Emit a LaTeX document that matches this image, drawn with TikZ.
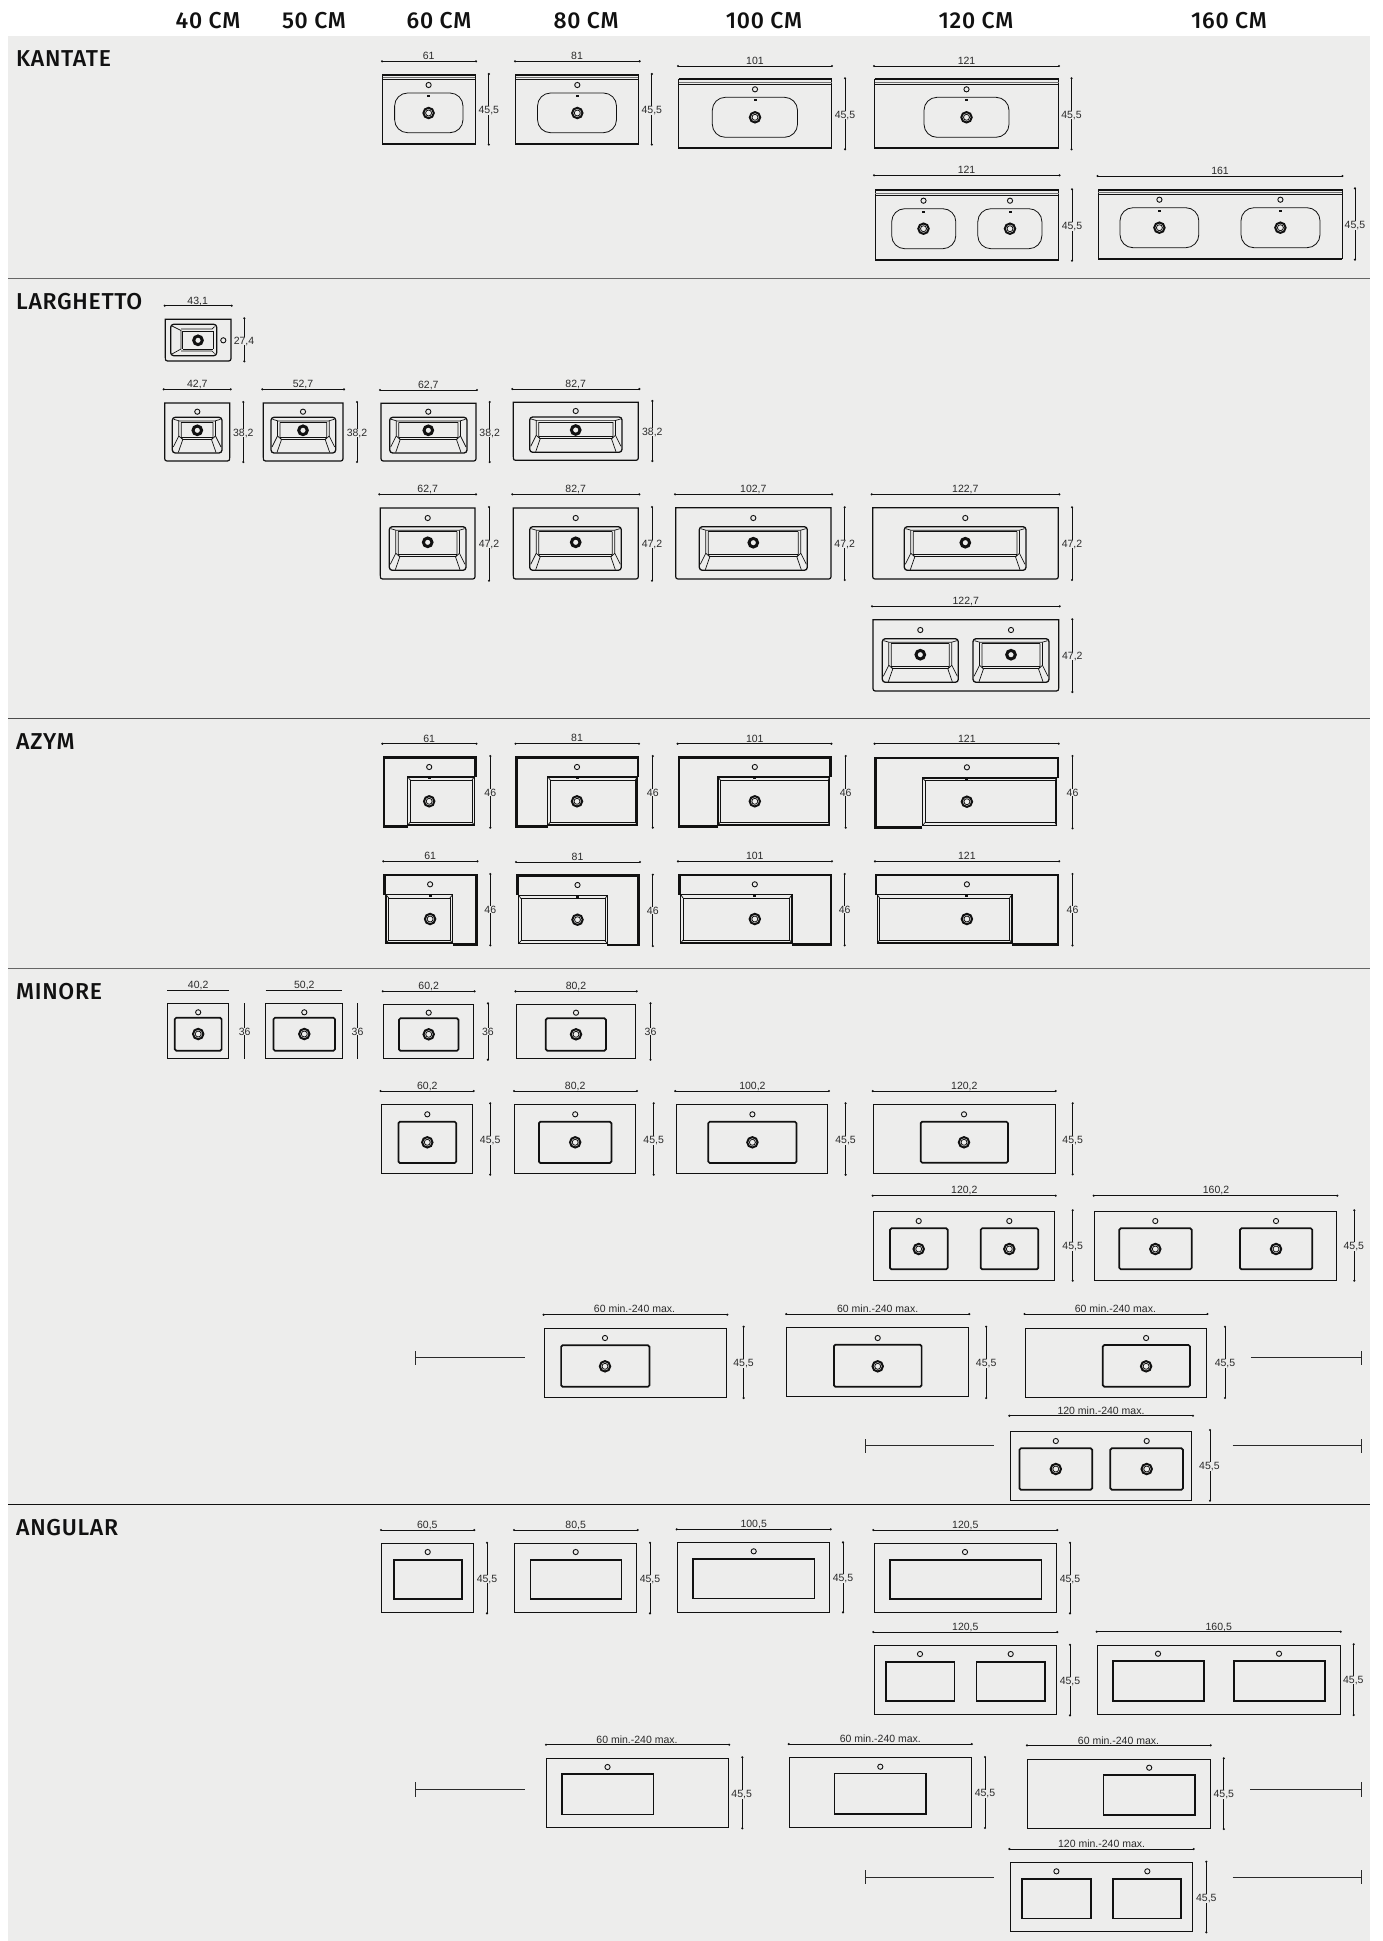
\documentclass[tikz,border=0pt]{standalone}
\usepackage{fontspec}
\setmainfont{Liberation Sans}
\newfontfamily\hdrfont[LetterSpace=3]{Fira Sans Medium}
\definecolor{panel}{HTML}{EDEDEC}
\definecolor{ink}{HTML}{111111}
\definecolor{dimtext}{HTML}{2A2A2A}
\tikzset{
  dimlabel/.style={inner sep=0pt,anchor=base,yshift=-3.8pt,text=dimtext,font=\fontsize{10.5}{10.5}\selectfont},
  coltitle/.style={inner sep=0pt,anchor=base,text=ink,font=\hdrfont\fontsize{23}{23}\selectfont},
  sectitle/.style={inner sep=0pt,anchor=base west,text=ink,font=\hdrfont\fontsize{23}{23}\selectfont},
  dimline/.style={draw=ink,line width=0.8pt},
  frameline/.style={draw=ink,line width=1pt},
  thickframe/.style={draw=ink,line width=2.5pt},
  bowlline/.style={draw=ink,line width=1.7pt},
  gbowlline/.style={draw=ink,line width=1.6pt},
  thinline/.style={draw=ink,line width=0.7pt},
  extline/.style={draw=dimtext,line width=0.9pt},
  sepline/.style={draw=black!60,line width=1.2pt},
}
\newcounter{lbl}
\newcommand\lab[3]{\stepcounter{lbl}\node[dimlabel] (lab\arabic{lbl}) at (#1,#2) {#3};}
\newcommand\labv[3]{\stepcounter{lbl}\node[dimlabel,fill=panel] (lab\arabic{lbl}) at (#1,#2) {#3};}
\newcommand\dimh[6]{\draw[dimline] (#1,#3) -- (#2,#3);\fill[ink] (#1,#3) circle (1.2pt) (#2,#3) circle (1.2pt);\lab{#4}{#5}{#6}}
\newcommand\dimhplain[6]{\draw[dimline] (#1,#3) -- (#2,#3);\lab{#4}{#5}{#6}}
\newcommand\dimv[6]{\draw[dimline] (#1,#2) -- (#1,#3);\fill[ink] (#1,#2) circle (1.2pt) (#1,#3) circle (1.2pt);\labv{#4}{#5}{#6}}
\newcommand\dimvplain[6]{\draw[dimline] (#1,#2) -- (#1,#3);\labv{#4}{#5}{#6}}
\newcommand\sinkhole[2]{\draw[line width=0.9pt,draw=ink] (#1,#2) circle (2.6pt);}
\newcommand\sinkdrain[2]{\draw[line width=2pt,draw=ink] (#1,#2) circle (5.2pt);\draw[line width=0.8pt,draw=ink] (#1,#2) circle (3pt);}
\newcommand\heavydrain[2]{\draw[line width=3pt,draw=ink] (#1,#2) circle (4.3pt);}
\newcommand\sinkmark[2]{\fill[ink] (#1,#2) ++(-1.5pt,-1pt) rectangle ++(3pt,2pt);}
% KANTATE
\newcommand\kframe[4]{\pgfmathsetmacro\kya{#2+2.6}\pgfmathsetmacro\kyb{#2+5}
  \draw[frameline] (#1,#2) rectangle (#3,#4);
  \draw[draw=ink,line width=1.7pt] (#1,#2) -- (#3,#2);
  \draw[draw=black!55,line width=0.6pt] (#1,\kya) -- (#3,\kya);
  \draw[draw=ink,line width=0.9pt] (#1,\kyb) -- (#3,\kyb);
  \draw[draw=ink,line width=2pt] (#1,#4) -- (#3,#4);}
\newcommand\kbowl[5]{\draw[draw=ink,line width=0.8pt,rounded corners=13pt] (#1,#2) rectangle (#3,#4);
  \pgfmathsetmacro\kh{#2-8}\pgfmathsetmacro\kd{#2+3}\pgfmathsetmacro\kc{#2+20}
  \sinkhole{#5}{\kh}\sinkmark{#5}{\kd}\sinkdrain{#5}{\kc}}
% LARGHETTO
\newcommand\lframe[4]{\pgfmathsetmacro\la{#4-5}\pgfmathsetmacro\lb{#1+5}\pgfmathsetmacro\lc{#3-5}
  \draw[draw=ink,line width=1.2pt] (#1,#2) -- (#3,#2) -- (#3,\la) .. controls (#3,#4) .. (\lc,#4) -- (\lb,#4) .. controls (#1,#4) .. (#1,\la) -- cycle;}
\newcommand\lbowl[7]{\pgfmathsetmacro\lw{#3-#1}\pgfmathsetmacro\lh{#4-#2}
  \draw[draw=ink,line width=1.3pt,rounded corners=3pt] (#1,#2) rectangle (#3,#4);
  \begin{scope}[shift={(#1,#2)},thinline]
    \draw (1.5,2) -- (7,3.6) -- (\lw-7,3.6) -- (\lw-1.5,2);
    \draw (9,5) -- (\lw-9,5);
  \end{scope}
  \begin{scope}[shift={(#1,#4)},thinline]
    \draw (6.5,-\lh+3.6) -- (6.5,-17) -- (1,-6);
    \draw (9,-\lh+5) -- (9,-15.5) -- (10.5,-13.5) -- (6,-0.6);
    \draw (6.5,-17) -- (10.5,-13.5);
    \draw[line width=1pt] (9,-15.5) -- (\lw-9,-15.5);
    \draw (10.5,-13.5) -- (\lw-10.5,-13.5);
    \draw (\lw-6.5,-\lh+3.6) -- (\lw-6.5,-17) -- (\lw-1,-6);
    \draw (\lw-9,-\lh+5) -- (\lw-9,-15.5) -- (\lw-10.5,-13.5) -- (\lw-6,-0.6);
    \draw (\lw-6.5,-17) -- (\lw-10.5,-13.5);
  \end{scope}
  \sinkhole{#5}{#6}\heavydrain{#5}{#7}}
% AZYM
\newcommand\azframeright[6]{\draw[thickframe] (#5,#4) -- (#1,#4) -- (#1,#2) -- (#3,#2) -- (#3,#6);}
\newcommand\azframeleft[6]{\draw[thickframe] (#5,#4) -- (#3,#4) -- (#3,#2) -- (#1,#2) -- (#1,#6);}
\newcommand\azbowl[8]{\draw[draw=ink,line width=1.3pt] (#1,#2) rectangle (#3,#4);
  \draw[thinline] (#5,#6) rectangle (#7,#8);
  \draw[thinline] (#1,#4) -- (#5,#8) (#3,#4) -- (#7,#8) (#1,#2) -- (#5,#6) (#3,#2) -- (#7,#6);}
% MINORE
\newcommand\mbowl[7]{\draw[bowlline,rounded corners=1.5pt] (#1,#2) rectangle (#3,#4);
  \sinkhole{#5}{#6}\sinkdrain{#5}{#7}}
% ANGULAR
\newcommand\gbowl[6]{\draw[gbowlline] (#1,#2) rectangle (#3,#4);\sinkhole{#5}{#6}}
\begin{document}
\begin{tikzpicture}[x=1pt,y=-1pt]
\useasboundingbox (0,0) rectangle (1383,1941);
\fill[white] (0,0) rectangle (1383,1941);
\fill[panel] (8,36) rectangle (1370,1941);
% column titles
\node[coltitle] (c40) at (208,28) {40 CM};
\node[coltitle] (c50) at (314,28) {50 CM};
\node[coltitle] (c60) at (439,28) {60 CM};
\node[coltitle] (c80) at (586,28) {80 CM};
\node[coltitle] (c100) at (764,28) {100 CM};
\node[coltitle] (c120) at (976,28) {120 CM};
\node[coltitle] (c160) at (1229,28) {160 CM};
% section titles
\node[sectitle] (s1) at (16,66.7) {KANTATE};
\node[sectitle] (s2) at (16,309.5) {LARGHETTO};
\node[sectitle] (s3) at (16,749) {AZYM};
\node[sectitle] (s4) at (16,999.5) {MINORE};
\node[sectitle] (s5) at (16,1535.5) {ANGULAR};
% separators
\draw[sepline] (8,278.7) -- (1370,278.7);
\draw[draw=black!70,line width=1pt] (8,718) -- (1370,718);
\draw[sepline] (8,968.5) -- (1370,968.5);
\draw[draw=ink,line width=1pt] (8,1504.3) -- (1370,1504.3);
%%%% KANTATE
\kframe{382.6}{74.7}{475.4}{144.3}\kbowl{394.6}{93}{463}{132.7}{428.6}
\dimh{382}{476}{61.3}{428.6}{55.7}{61}\dimv{488.8}{74}{144.6}{488.8}{109.7}{45,5}
\kframe{515.6}{74.7}{638.4}{144.3}\kbowl{537.5}{93}{616.5}{132.7}{577.3}
\dimh{515}{639.6}{61.3}{577}{55.7}{81}\dimv{651.8}{74}{144.6}{651.8}{109.7}{45,5}
\kframe{678.6}{79.3}{831.6}{148.3}\kbowl{712.3}{97.3}{797.5}{137.3}{755}
\dimh{678}{832}{66}{755}{60.3}{101}\dimv{845}{78.3}{149.3}{845}{114.3}{45,5}
\kframe{874.6}{79.3}{1058.5}{148.3}\kbowl{924}{97.3}{1009}{137.3}{966.5}
\dimh{874}{1059}{66}{966.5}{60.3}{121}\dimv{1071.5}{78.3}{149.3}{1071.5}{114.3}{45,5}
\kframe{875}{190.3}{1058.5}{259.7}\kbowl{891.7}{208.7}{955.8}{248.7}{923.5}\kbowl{977.8}{208.7}{1041.9}{248.7}{1010}
\dimh{874}{1059.5}{175.3}{966.5}{169.7}{121}\dimv{1072}{189.3}{260.7}{1072}{225.7}{45,5}
\kframe{1098}{189.7}{1342}{258.7}\kbowl{1120}{207.7}{1198.8}{247.7}{1159.4}\kbowl{1241}{207.7}{1320}{247.7}{1280.4}
\dimh{1097.5}{1342.5}{176}{1220}{170.3}{161}\dimv{1354.9}{188.3}{259.7}{1354.9}{224.7}{45,5}
%%%% LARGHETTO
\lframe{165.3}{319.3}{231}{361}
\draw[draw=ink,line width=1.3pt,rounded corners=3pt] (170.7,324.3) rectangle (216.7,355.7);
\begin{scope}[thinline]
  \draw (172,326) -- (181,330.5) -- (181,349) -- (172,354);
  \draw (182.5,331) -- (213,331) (182.5,349) -- (213,349) (182.5,331) -- (182.5,349);
  \draw (181,329) -- (212,329) -- (214.5,326.5) (181,351) -- (212,351) -- (214.5,353.5);
  \draw (213,331) -- (213,349);
\end{scope}
\sinkhole{223.3}{340.3}\heavydrain{198}{340.3}
\dimh{164.7}{231.7}{305.7}{197.7}{300.7}{43,1}\dimv{244.3}{318.3}{361.3}{244}{340.3}{27,4}
\lframe{164.7}{403}{229.7}{461}\lbowl{172.3}{417.3}{222}{453}{197.3}{411.7}{430.3}
\dimh{163.7}{230.7}{389.3}{197.3}{383.7}{42,7}\dimv{243.3}{402}{462}{243.3}{432.3}{38,2}
\lframe{263.3}{403}{343}{461}\lbowl{271}{417.3}{335.7}{453}{303}{411.7}{430.3}
\dimh{262.3}{344}{389.3}{303}{383.7}{52,7}\dimv{357}{402}{462}{357}{432.3}{38,2}
\lframe{381}{403.3}{476}{461}\lbowl{389.7}{417.3}{467}{453}{428.3}{411.7}{430.3}
\dimh{380}{477}{390}{428.3}{384.7}{62,7}\dimv{489.7}{402}{462}{489.7}{432.3}{38,2}
\lframe{513.3}{402.3}{638.3}{460.3}\lbowl{529.7}{417}{622}{452.3}{575.7}{411}{430}
\dimh{512.3}{639.3}{389}{575.7}{383.7}{82,7}\dimv{652.3}{401}{461}{652.3}{431.3}{38,2}
\lframe{380.3}{508}{475}{579}\lbowl{389.3}{526.7}{466}{570.3}{427.7}{518}{542.3}
\dimh{379.3}{476}{494.3}{427.7}{488.3}{62,7}\dimv{489}{507}{580.7}{489}{543.3}{47,2}
\lframe{513.3}{508}{638.3}{579}\lbowl{529.7}{526.7}{621.3}{570.3}{575.7}{518}{542.3}
\dimh{512.3}{639.3}{494.3}{575.7}{488.3}{82,7}\dimv{652}{507}{580.7}{652}{543.3}{47,2}
\lframe{675.7}{507.7}{831}{579}\lbowl{699.3}{526.7}{807.3}{570.3}{753.3}{518}{542.7}
\dimh{675}{832}{494.3}{753.3}{488.7}{102,7}\dimv{844.7}{507.3}{580}{844.7}{543.3}{47,2}
\lframe{872.7}{507.7}{1058.3}{579}\lbowl{904.3}{526.7}{1026}{570.3}{965.3}{518}{542.7}
\dimh{871.7}{1059.3}{494.3}{965.3}{488.7}{122,7}\dimv{1072}{507.3}{580}{1072}{543.3}{47,2}
\lframe{873}{619.7}{1058.7}{691}\lbowl{882.3}{638.7}{958.3}{682.3}{920.3}{630}{654.7}\lbowl{973}{638.7}{1049}{682.3}{1011}{630}{654.7}
\dimh{872}{1059.7}{606.3}{965.7}{600.3}{122,7}\dimv{1072.3}{619.3}{692}{1072.3}{655.3}{47,2}
%%%% AZYM row 1
\azframeright{383.8}{757.7}{475.6}{826.7}{407.6}{777}\azbowl{407.6}{777}{474.2}{825}{410.4}{780}{472}{822}
\sinkhole{429.2}{767}\sinkmark{429.2}{778.3}\sinkdrain{429.2}{801.3}
\dimh{382.4}{476.5}{743.7}{429.2}{738.3}{61}\dimv{490.3}{756}{827.7}{490.3}{792.3}{46}
\azframeright{516.5}{757.7}{638.1}{826.7}{547.7}{777}\azbowl{547.7}{777}{637}{825}{550.4}{780}{635.4}{822}
\sinkhole{577}{767}\sinkmark{577}{778.3}\sinkdrain{577}{801.3}
\dimh{515.5}{639}{743.7}{577}{737.3}{81}\dimv{652.8}{756}{827.7}{652.8}{792.3}{46}
\azframeright{679}{757.7}{830.5}{826.7}{718}{777}\azbowl{718}{777}{829.5}{825}{720.3}{780}{828.2}{822}
\sinkhole{754.8}{767}\sinkmark{754.8}{778.3}\sinkdrain{754.8}{801.3}
\dimh{677.6}{831.4}{743.7}{754.8}{738.3}{101}\dimv{845.7}{756}{827.7}{845.7}{792.3}{46}
\azframeright{875.5}{758}{1057.8}{827.3}{922.3}{778}\azbowl{922.3}{778}{1056.8}{825.5}{925}{780.7}{1055}{822.7}
\sinkhole{966.9}{767.3}\sinkmark{966.9}{778.6}\sinkdrain{966.9}{801.7}
\dimh{874.6}{1058.7}{743.7}{966.9}{738.3}{121}\dimv{1072.5}{756}{828.3}{1072.5}{792.3}{46}
%%%% AZYM row 2
\azframeleft{384.7}{875}{476.5}{944.3}{452.6}{894.7}\azbowl{386}{894.7}{452.6}{943}{388.8}{898}{449.9}{940}
\sinkhole{430.1}{884.3}\sinkmark{430.1}{896}\sinkdrain{430.1}{919}
\dimh{383.3}{477.4}{861.3}{430.1}{855.7}{61}\dimv{490.3}{874}{945.3}{490.3}{909.3}{46}
\azframeleft{517.4}{875.7}{638.6}{945}{607.4}{895.3}\azbowl{518.8}{895.3}{607.4}{943.6}{521}{898.7}{605}{940.7}
\sinkhole{577.5}{885}\sinkmark{577.5}{896.6}\sinkdrain{577.5}{919.7}
\dimh{516}{640}{862}{577.5}{856.7}{81}\dimv{652.8}{874.7}{946}{652.8}{910.3}{46}
\azframeleft{679.5}{875}{831}{944.3}{792}{894.7}\azbowl{680.8}{894.7}{792}{943}{683}{898}{789.6}{940}
\sinkhole{754.8}{884.3}\sinkmark{754.8}{896}\sinkdrain{754.8}{919}
\dimh{678}{831.9}{861.3}{754.8}{855.7}{101}\dimv{844.7}{874}{945.3}{844.7}{909.3}{46}
\azframeleft{876}{875}{1057.8}{944.3}{1011.9}{894.7}\azbowl{877.3}{894.7}{1011.9}{943}{879.6}{898}{1009.6}{940}
\sinkhole{966.9}{884.3}\sinkmark{966.9}{896}\sinkdrain{966.9}{919}
\dimh{875}{1059.2}{861.3}{966.9}{855.7}{121}\dimv{1072.5}{874}{945.3}{1072.5}{909.3}{46}
%%%% MINORE row 1
\draw[frameline] (167.4,1003.7) rectangle (228.5,1058.7);\mbowl{174.8}{1017.7}{221.6}{1050.7}{198.2}{1012.3}{1034}
\dimhplain{167.4}{229}{990.3}{198.2}{984.7}{40,2}\dimvplain{244.6}{1003.3}{1059}{244.6}{1031.3}{36}
\draw[frameline] (265.7,1003.7) rectangle (342.4,1058.7);\mbowl{273.5}{1017.7}{335}{1050.7}{304.3}{1012.3}{1034}
\dimhplain{265.7}{342.4}{990.3}{304.3}{984.7}{50,2}\dimvplain{357.5}{1003.3}{1059}{357.5}{1031.3}{36}
\draw[frameline] (383.7,1004.3) rectangle (473.7,1058.7);\mbowl{398.9}{1018.3}{458.5}{1050.7}{428.7}{1012.7}{1034.3}
\dimh{382.8}{474.6}{991.3}{428.7}{985.7}{60,2}\dimv{487.9}{1003.3}{1059.7}{487.9}{1031.3}{36}
\draw[frameline] (516.4,1004.3) rectangle (635.3,1058.7);\mbowl{545.8}{1018.3}{605.9}{1050.7}{576}{1012.7}{1034.3}
\dimh{515.5}{636.7}{991.3}{576}{985.7}{80,2}\dimv{650.5}{1003.3}{1059.7}{650.5}{1031.3}{36}
%%%% MINORE row 2
\draw[frameline] (381.4,1104.3) rectangle (472.3,1173.3);\mbowl{398.4}{1121.7}{456.2}{1163}{427.3}{1114.3}{1142.3}
\dimh{380.5}{473.7}{1091}{427.3}{1085.3}{60,2}\dimv{490.2}{1103.3}{1174.7}{490.2}{1139.7}{45,5}
\draw[frameline] (514.6,1104.3) rectangle (635.8,1173.3);\mbowl{538.9}{1121.7}{611.4}{1163}{575.2}{1114.3}{1142.3}
\dimh{514}{637}{1091}{575.2}{1085.3}{80,2}\dimv{653.7}{1103.3}{1174.7}{653.7}{1139.7}{45,5}
\draw[frameline] (676.6,1104.3) rectangle (827.7,1173.3);\mbowl{708.3}{1121.7}{796.5}{1163}{752.4}{1114.3}{1142.3}
\dimh{675.2}{829}{1091}{752.4}{1085.3}{100,2}\dimv{845.6}{1103.3}{1174.7}{845.6}{1139.7}{45,5}
\draw[frameline] (873.3,1104.3) rectangle (1055,1173.3);\mbowl{920.7}{1121.7}{1008}{1162.7}{964}{1114.3}{1142.3}
\dimh{872.7}{1055.7}{1091}{964.3}{1085.3}{120,2}\dimv{1072.7}{1103.3}{1174.3}{1072.7}{1139.3}{45,5}
%%%% MINORE row 3
\draw[frameline] (873,1211) rectangle (1054.7,1280);\mbowl{890}{1228.3}{947.7}{1269.3}{918.7}{1221}{1249}\mbowl{980.7}{1228.3}{1038.3}{1269.3}{1009.3}{1221}{1249}
\dimh{872.7}{1055.7}{1195.7}{964.3}{1189.7}{120,2}\dimv{1072.7}{1210.3}{1280.7}{1072.7}{1245.7}{45,5}
\draw[frameline] (1094.7,1211) rectangle (1336.7,1280);\mbowl{1119.3}{1228.3}{1191.7}{1269.3}{1155.3}{1221}{1249}\mbowl{1240}{1228.3}{1312.3}{1269.3}{1276}{1221}{1249}
\dimh{1093.7}{1337.3}{1195.7}{1216}{1189.7}{160,2}\dimv{1354.3}{1210.3}{1280.7}{1353.8}{1245.7}{45,5}
%%%% MINORE row 4
\draw[frameline] (544.2,1328) rectangle (726.6,1397.3);\mbowl{561.1}{1345.3}{649.5}{1386.7}{605}{1338}{1366.3}
\dimh{543.6}{727.3}{1314.7}{634.5}{1308.7}{60 min.-240 max.}\dimv{743.6}{1326.7}{1398}{743.6}{1362.7}{45,5}
\draw[extline] (415,1351) -- (415,1364.7) (415,1357.7) -- (524.8,1357.7);
\draw[frameline] (786.8,1327.7) rectangle (968.7,1396.7);\mbowl{833.9}{1344.7}{921.6}{1386.7}{877.7}{1338}{1366.3}
\dimh{786.2}{969.3}{1314}{877.7}{1308.7}{60 min.-240 max.}\dimv{986.2}{1326.7}{1398}{986.2}{1362.7}{45,5}
\draw[frameline] (1025,1328) rectangle (1206.9,1397);\mbowl{1102.8}{1345}{1190}{1386.7}{1146.1}{1338}{1366.3}
\dimh{1024.5}{1207.5}{1314}{1115.4}{1308.7}{60 min.-240 max.}\dimv{1225}{1326.7}{1398}{1225}{1362.7}{45,5}
\draw[extline] (1250.8,1357.7) -- (1361,1357.7) (1361,1351) -- (1361,1364.7);
%%%% MINORE row 5
\draw[frameline] (1010.7,1431) rectangle (1191.8,1500.3);\mbowl{1019.4}{1448.3}{1092.2}{1489.7}{1055.8}{1441}{1469}\mbowl{1110.3}{1448.3}{1183}{1489.7}{1146.7}{1441}{1469}
\dimh{1009.4}{1193}{1415.7}{1101}{1410.3}{120 min.-240 max.}\dimv{1210}{1430}{1500.7}{1209.4}{1465.7}{45,5}
\draw[extline] (865.8,1439) -- (865.8,1453) (865.8,1445.7) -- (994.4,1445.7);
\draw[extline] (1232.6,1445.7) -- (1361,1445.7) (1361,1439) -- (1361,1453);
%%%% ANGULAR row 1
\draw[frameline] (381.7,1543.7) rectangle (473.7,1612.3);\gbowl{393.7}{1559.7}{462}{1599}{427.7}{1552}
\dimh{381}{474.3}{1530}{427.3}{1524.3}{60,5}\dimv{487}{1542.7}{1613.3}{487}{1578.3}{45,5}
\draw[frameline] (514.7,1543.7) rectangle (636.7,1612.3);\gbowl{530.3}{1559.7}{621.3}{1599}{575.7}{1552}
\dimh{514}{637.7}{1530}{575.7}{1524.3}{80,5}\dimv{650}{1542.7}{1613.3}{650}{1578.3}{45,5}
\draw[frameline] (677.3,1542.7) rectangle (829.7,1612);\gbowl{692.7}{1559}{814.3}{1598.3}{753.7}{1551.3}
\dimh{676.7}{830.7}{1529.3}{753.7}{1523.7}{100,5}\dimv{843}{1542.3}{1612.3}{843}{1577.7}{45,5}
\draw[frameline] (874,1543.7) rectangle (1056.3,1612.3);\gbowl{889.7}{1559.7}{1041.3}{1599}{965}{1552}
\dimh{873.3}{1057.3}{1530}{965.3}{1524.3}{120,5}\dimv{1070}{1542.7}{1613.3}{1070}{1578.3}{45,5}
%%%% ANGULAR row 2
\draw[frameline] (874,1645.7) rectangle (1056.3,1714.3);\gbowl{885.7}{1661.7}{954.3}{1701}{920}{1654}\gbowl{976.3}{1661.7}{1045}{1701}{1010.7}{1654}
\dimh{873.3}{1057.3}{1632}{965.3}{1626.3}{120,5}\dimv{1070}{1644.7}{1715.3}{1070}{1680.7}{45,5}
\draw[frameline] (1097.3,1645.3) rectangle (1340,1714);\gbowl{1112.7}{1661}{1203.7}{1700.7}{1158}{1653.7}\gbowl{1233.7}{1661}{1324.7}{1700.7}{1279}{1653.7}
\dimh{1096.7}{1340.7}{1631.7}{1218.7}{1626.3}{160,5}\dimv{1353.7}{1644.3}{1715}{1353.3}{1679.3}{45,5}
%%%% ANGULAR row 3
\draw[frameline] (546.7,1758.3) rectangle (728.5,1827.3);\gbowl{561.8}{1773.7}{653.3}{1814.3}{607.5}{1767}
\dimh{546}{729.2}{1744.7}{637}{1739.3}{60 min.-240 max.}\dimv{742.3}{1757.3}{1828.3}{741.7}{1793.7}{45,5}
\draw[extline] (415,1782) -- (415,1797) (415,1789.7) -- (524.8,1789.7);
\draw[frameline] (789.3,1757.7) rectangle (971.2,1827);\gbowl{834.5}{1773.3}{926}{1813.7}{880.3}{1766.7}
\dimh{788.7}{971.8}{1744}{880.3}{1738.3}{60 min.-240 max.}\dimv{985}{1757}{1828}{985}{1793}{45,5}
\draw[frameline] (1027.6,1759.3) rectangle (1210,1828.3);\gbowl{1103.4}{1774.7}{1195}{1815}{1149.2}{1767.7}
\dimh{1027}{1210.7}{1745.3}{1118.5}{1740.3}{60 min.-240 max.}\dimv{1223.8}{1758.3}{1829}{1223.8}{1793.7}{45,5}
\draw[extline] (1250.2,1789.7) -- (1361,1789.7) (1361,1782) -- (1361,1797);
%%%% ANGULAR row 4
\draw[frameline] (1010.7,1862.7) rectangle (1192.5,1931.7);\gbowl{1022}{1878.7}{1090.9}{1918.3}{1056.4}{1871.3}\gbowl{1112.9}{1878.7}{1181.2}{1918.3}{1147.3}{1871.3}
\dimh{1009.4}{1193.7}{1849}{1101.6}{1843.7}{120 min.-240 max.}\dimv{1206.3}{1861.7}{1932.3}{1206.3}{1897.7}{45,5}
\draw[extline] (865.8,1870.3) -- (865.8,1884.3) (865.8,1877.7) -- (994.4,1877.7);
\draw[extline] (1232.6,1877.7) -- (1361,1877.7) (1361,1870.3) -- (1361,1884.3);
\end{tikzpicture}
\end{document}
